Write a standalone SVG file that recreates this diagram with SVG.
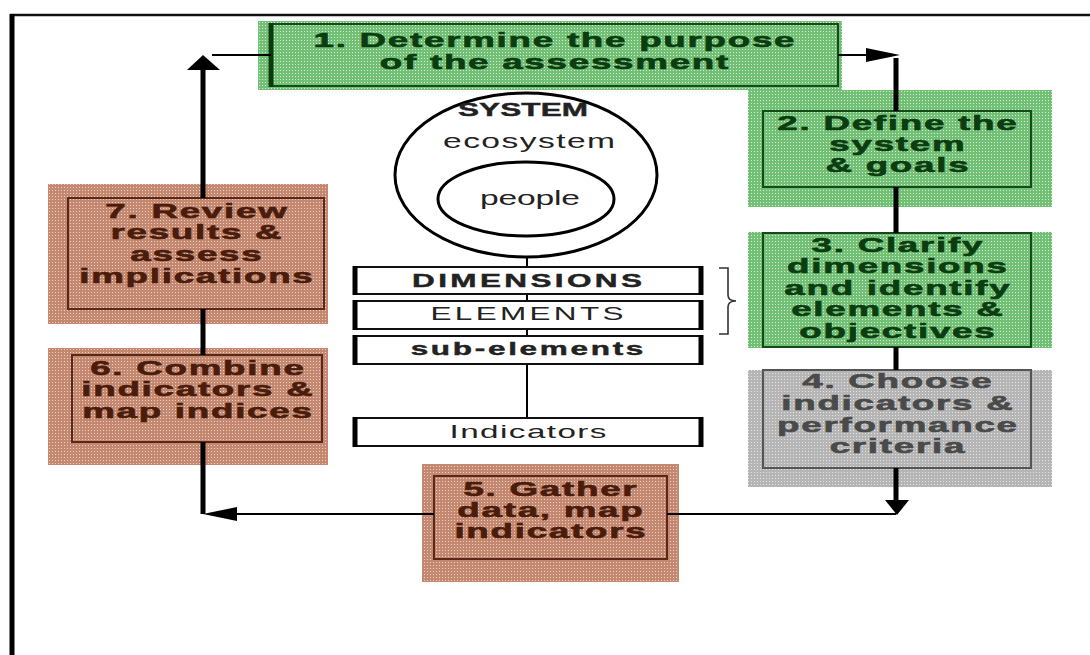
<svg xmlns="http://www.w3.org/2000/svg" width="1090" height="655" viewBox="0 0 1090 655">
  <defs>
    <!-- dithered fills for the step boxes -->
    <pattern id="dotGreen" width="3" height="3" patternUnits="userSpaceOnUse">
      <rect width="3" height="3" fill="#72bf76"/>
      <rect x="1" y="1" width="1" height="1" fill="#d4eed4"/>
    </pattern>
    <pattern id="dotSalmon" width="3" height="3" patternUnits="userSpaceOnUse">
      <rect width="3" height="3" fill="#c4876f"/>
      <rect x="1" y="1" width="1" height="1" fill="#ecd0c2"/>
    </pattern>
    <pattern id="dotGray" width="3" height="3" patternUnits="userSpaceOnUse">
      <rect width="3" height="3" fill="#b5b5b5"/>
      <rect x="1" y="1" width="1" height="1" fill="#e4e4e4"/>
    </pattern>
  </defs>
  <style>
    .step { font-family: "Liberation Sans", Arial, sans-serif; font-weight: bold; font-size: 21px; letter-spacing: 1px; text-anchor: middle; stroke-width: 0.6; }
    .green { fill: #0b3d10; stroke: #0b3d10; }
    .brown { fill: #4a1c0c; stroke: #4a1c0c; }
    .grey { fill: #4a4a4a; stroke: #4a4a4a; }
    .bgG { fill: url(#dotGreen); }
    .bgS { fill: url(#dotSalmon); }
    .bgY { fill: url(#dotGray); }
    .inG { fill: none; stroke: #174a1a; stroke-width: 2; }
    .inS { fill: none; stroke: #5a2818; stroke-width: 2; }
    .inY { fill: none; stroke: #555; stroke-width: 2; }
    .lbl { font-family: "Liberation Sans", Arial, sans-serif; fill: #222; text-anchor: middle; }
    .b { font-weight: bold; stroke: #222; stroke-width: 0.4; }
    .tier { fill: #fff; stroke: #111; stroke-width: 2; }
    .side { stroke: #000; stroke-width: 5; }
    .thick { fill: none; stroke: #000; stroke-width: 5; }
    .thin { fill: none; stroke: #000; stroke-width: 2; }
    .head { fill: #000; }
  </style>

  <rect width="1090" height="655" fill="#fff"/>

  <!-- outer frame -->
  <g id="frame">
    <line x1="10" y1="15" x2="1090" y2="15" stroke="#111" stroke-width="2.5"/>
    <line x1="12" y1="14" x2="12" y2="655" stroke="#000" stroke-width="5"/>
  </g>

  <!-- central concept figure -->
  <g id="system">
    <ellipse cx="526" cy="175" rx="131" ry="82" fill="#fff" stroke="#000" stroke-width="3"/>
    <ellipse cx="526" cy="199" rx="88" ry="37" fill="#fff" stroke="#000" stroke-width="3"/>
    <g transform="translate(523,0) scale(1.75,1)">
      <text class="lbl b" x="0" y="116" font-size="18" textLength="74.3" lengthAdjust="spacing">SYSTEM</text>
    </g>
    <g transform="translate(529,0) scale(1.6,1)">
      <text class="lbl" x="0" y="148" font-size="21" textLength="107.5" lengthAdjust="spacing">ecosystem</text>
    </g>
    <g transform="translate(530,0) scale(1.6,1)">
      <text class="lbl" x="0" y="205" font-size="21" textLength="62.5" lengthAdjust="spacing">people</text>
    </g>
  </g>

  <g id="tiers">
    <path d="M527 257 V267 M527 294 V301 M527 329 V336 M527 364 V418" class="thin"/>
    <g id="dimensions">
      <rect class="tier" x="354" y="267" width="348" height="27"/>
      <line class="side" x1="355" y1="266" x2="355" y2="295"/>
      <line class="side" x1="701" y1="266" x2="701" y2="295"/>
      <g transform="translate(527,0) scale(1.75,1)">
        <text class="lbl b" x="0" y="287" font-size="18" textLength="131.4" lengthAdjust="spacing">DIMENSIONS</text>
      </g>
    </g>
    <g id="elements">
      <rect class="tier" x="354" y="301" width="348" height="28"/>
      <line class="side" x1="355" y1="300" x2="355" y2="330"/>
      <line class="side" x1="701" y1="300" x2="701" y2="330"/>
      <g transform="translate(527,0) scale(1.75,1)">
        <text class="lbl" x="0" y="320" font-size="18" textLength="110.3" lengthAdjust="spacing">ELEMENTS</text>
      </g>
    </g>
    <g id="sub-elements">
      <rect class="tier" x="354" y="336" width="348" height="28"/>
      <line class="side" x1="355" y1="335" x2="355" y2="365"/>
      <line class="side" x1="701" y1="335" x2="701" y2="365"/>
      <g transform="translate(527,0) scale(1.75,1)">
        <text class="lbl b" x="0" y="355" font-size="18" textLength="133" lengthAdjust="spacing">sub-elements</text>
      </g>
    </g>
    <g id="indicators">
      <rect class="tier" x="354" y="418" width="348" height="28"/>
      <line class="side" x1="355" y1="417" x2="355" y2="447"/>
      <line class="side" x1="701" y1="417" x2="701" y2="447"/>
      <g transform="translate(528,0) scale(1.75,1)">
        <text class="lbl" x="0" y="438" font-size="19" textLength="89.7" lengthAdjust="spacing">Indicators</text>
      </g>
    </g>
    <!-- brace grouping dimensions and elements -->
    <path d="M719 268 H728 V295 Q728 301 736 301 Q728 301 728 307 V334 H719" fill="none" stroke="#333" stroke-width="1.6"/>
  </g>

  <!-- step boxes -->
  <g id="step1">
    <rect class="bgG" x="258" y="21" width="584" height="69"/>
    <rect class="inG" x="271" y="24" width="567" height="62"/>
    <line x1="271" y1="23" x2="271" y2="87" stroke="#0b3a0e" stroke-width="5"/>
    <g transform="translate(554,0) scale(1.75,1)">
      <text class="step green" x="0.5" y="47">1. Determine the purpose</text>
      <text class="step green" x="0.5" y="69">of the assessment</text>
    </g>
  </g>

  <g id="step2">
    <rect class="bgG" x="748" y="90" width="304" height="117"/>
    <rect class="inG" x="763" y="111" width="268" height="76"/>
    <g transform="translate(897,0) scale(1.75,1)">
      <text class="step green" x="0.5" y="130">2. Define the</text>
      <text class="step green" x="0.5" y="151">system</text>
      <text class="step green" x="0.5" y="172">&amp; goals</text>
    </g>
  </g>

  <g id="step3">
    <rect class="bgG" x="748" y="232" width="304" height="116"/>
    <rect class="inG" x="763" y="233" width="268" height="114"/>
    <g transform="translate(897,0) scale(1.75,1)">
      <text class="step green" x="0.5" y="252">3. Clarify</text>
      <text class="step green" x="0.5" y="273.5">dimensions</text>
      <text class="step green" x="0.5" y="295">and identify</text>
      <text class="step green" x="0.5" y="316.5">elements &amp;</text>
      <text class="step green" x="0.5" y="338">objectives</text>
    </g>
  </g>

  <g id="step4">
    <rect class="bgY" x="748" y="370" width="304" height="117"/>
    <rect class="inY" x="763" y="370" width="268" height="98"/>
    <g transform="translate(897,0) scale(1.75,1)">
      <text class="step grey" x="0.5" y="388">4. Choose</text>
      <text class="step grey" x="0.5" y="410">indicators &amp;</text>
      <text class="step grey" x="0.5" y="432">performance</text>
      <text class="step grey" x="0.5" y="453">criteria</text>
    </g>
  </g>

  <g id="step5">
    <rect class="bgS" x="422" y="464" width="257" height="118"/>
    <rect class="inS" x="434" y="476" width="233" height="83"/>
    <g transform="translate(550,0) scale(1.75,1)">
      <text class="step brown" x="0.5" y="496">5. Gather</text>
      <text class="step brown" x="0.5" y="517">data, map</text>
      <text class="step brown" x="0.5" y="538">indicators</text>
    </g>
  </g>

  <g id="step6">
    <rect class="bgS" x="48" y="348" width="280" height="117"/>
    <rect class="inS" x="72" y="355" width="250" height="87"/>
    <g transform="translate(197,0) scale(1.75,1)">
      <text class="step brown" x="0.5" y="375">6. Combine</text>
      <text class="step brown" x="0.5" y="396.5">indicators &amp;</text>
      <text class="step brown" x="0.5" y="418">map indices</text>
    </g>
  </g>

  <g id="step7">
    <rect class="bgS" x="48" y="184" width="280" height="140"/>
    <rect class="inS" x="68" y="198" width="256" height="111"/>
    <g transform="translate(196,0) scale(1.75,1)">
      <text class="step brown" x="0.5" y="218">7. Review</text>
      <text class="step brown" x="0.5" y="239.5">results &amp;</text>
      <text class="step brown" x="0.5" y="261">assess</text>
      <text class="step brown" x="0.5" y="283">implications</text>
    </g>
  </g>

  <!-- cycle connectors -->
  <g id="connectors">
    <!-- 1 -> 2 -->
    <path class="thin" d="M838 55 H867"/>
    <polygon class="head" points="866,48 900,55 866,62"/>
    <path class="thick" d="M896 58 V111 M896 187 V233 M896 347 V370 M896 468 V501"/>
    <polygon class="head" points="885,500 909,500 897,515"/>
    <!-- 4 -> 5 -> 6 -->
    <path class="thin" d="M896 514 H667 M434 514 H236"/>
    <polygon class="head" points="237,507 237,521 203,514"/>
    <!-- 6 -> 7 -> 1 -->
    <path class="thick" d="M203 514 V442 M203 355 V309 M203 198 V69"/>
    <polygon class="head" points="187,70 220,70 203,55"/>
    <path class="thin" d="M271 55 H212"/>
  </g>
</svg>
